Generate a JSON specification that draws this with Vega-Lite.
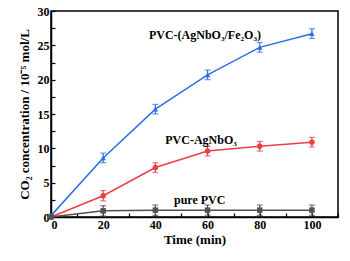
{
  "$schema": "https://vega.github.io/schema/vega-lite/v6.json",
  "width": 287,
  "height": 206,
  "autosize": {"type": "none"},
  "padding": {"left": 51, "top": 11, "right": 12, "bottom": 44},
  "background": "white",
  "config": {
    "view": {"stroke": "black", "strokeWidth": 1.5},
    "font": "Liberation Serif",
    "axis": {
      "domainColor": "black", "domainWidth": 1.5,
      "tickColor": "black", "tickWidth": 1.2,
      "labelFont": "Liberation Serif", "labelFontWeight": "bold", "labelFontSize": 12, "labelColor": "black",
      "titleFont": "Liberation Serif", "titleFontWeight": "bold", "titleFontSize": 13, "titleColor": "black",
      "grid": false, "labelOverlap": false
    }
  },
  "datasets": {
    "pts": [
      {"time": 0, "value": 0.2, "err": 0.2, "series": "PVC-(AgNbO3/Fe2O3)"},
      {"time": 20, "value": 8.6, "err": 0.7, "series": "PVC-(AgNbO3/Fe2O3)"},
      {"time": 40, "value": 15.7, "err": 0.7, "series": "PVC-(AgNbO3/Fe2O3)"},
      {"time": 60, "value": 20.7, "err": 0.7, "series": "PVC-(AgNbO3/Fe2O3)"},
      {"time": 80, "value": 24.7, "err": 0.7, "series": "PVC-(AgNbO3/Fe2O3)"},
      {"time": 100, "value": 26.7, "err": 0.7, "series": "PVC-(AgNbO3/Fe2O3)"},
      {"time": 0, "value": 0, "err": 0, "series": "PVC-AgNbO3"},
      {"time": 20, "value": 3.1, "err": 0.75, "series": "PVC-AgNbO3"},
      {"time": 40, "value": 7.2, "err": 0.7, "series": "PVC-AgNbO3"},
      {"time": 60, "value": 9.6, "err": 0.7, "series": "PVC-AgNbO3"},
      {"time": 80, "value": 10.3, "err": 0.7, "series": "PVC-AgNbO3"},
      {"time": 100, "value": 10.9, "err": 0.7, "series": "PVC-AgNbO3"},
      {"time": 0, "value": 0, "err": 0, "series": "pure PVC"},
      {"time": 20, "value": 0.9, "err": 0.75, "series": "pure PVC"},
      {"time": 40, "value": 1.0, "err": 0.75, "series": "pure PVC"},
      {"time": 60, "value": 1.0, "err": 0.75, "series": "pure PVC"},
      {"time": 80, "value": 1.0, "err": 0.75, "series": "pure PVC"},
      {"time": 100, "value": 1.0, "err": 0.75, "series": "pure PVC"}
    ],
    "labels": [
      {"time": 59, "value": 26.5, "label": "PVC-(AgNbO₃/Fe₂O₃)"},
      {"time": 57.5, "value": 11.2, "label": "PVC-AgNbO₃"},
      {"time": 57, "value": 2.5, "label": "pure PVC"}
    ]
  },
  "encoding": {
    "x": {"field": "time", "type": "quantitative", "scale": {"domain": [0, 110], "nice": false},
      "axis": {"title": "Time (min)", "values": [0,10,20,30,40,50,60,70,80,90,100,110],
        "labelExpr": "datum.value % 20 === 0 && datum.value <= 100 ? datum.label : ''",
        "labelOverlap": false,
        "tickSize": -4,
        "labelPadding": 6, "titlePadding": 3}},
    "y": {"field": "value", "type": "quantitative", "scale": {"domain": [0, 30], "nice": false},
      "axis": {"title": "CO₂ concentration / 10⁻⁵ mol/L",
        "values": [0,2.5,5,7.5,10,12.5,15,17.5,20,22.5,25,27.5,30],
        "labelExpr": "datum.value % 5 === 0 ? datum.label : ''",
        "labelOverlap": false,
        "tickSize": -4,
        "labelPadding": 6, "titlePadding": 6}}
  },
  "layer": [
    {
      "data": {"name": "pts"},
      "mark": {"type": "line", "strokeWidth": 1.5},
      "encoding": {
        "color": {"field": "series", "type": "nominal", "legend": null,
          "scale": {"domain": ["PVC-(AgNbO3/Fe2O3)", "PVC-AgNbO3", "pure PVC"], "range": ["#2a6fe6", "#ea3f43", "#505050"]}}
      }
    },
    {
      "data": {"name": "pts"},
      "mark": {"type": "errorbar", "ticks": {"size": 6}, "thickness": 1.2},
      "encoding": {
        "yError": {"field": "err"},
        "color": {"field": "series", "type": "nominal", "legend": null}
      }
    },
    {
      "data": {"name": "pts"},
      "mark": {"type": "point", "filled": true, "size": 30, "opacity": 1},
      "encoding": {
        "color": {"field": "series", "type": "nominal", "legend": null},
        "shape": {"field": "series", "type": "nominal", "legend": null,
          "scale": {"domain": ["PVC-(AgNbO3/Fe2O3)", "PVC-AgNbO3", "pure PVC"], "range": ["triangle-up", "circle", "square"]}}
      }
    },
    {
      "data": {"name": "labels"},
      "mark": {"type": "text", "font": "Liberation Serif", "fontWeight": "bold", "fontSize": 12, "color": "black"},
      "encoding": {
        "text": {"field": "label"}
      }
    }
  ]
}
